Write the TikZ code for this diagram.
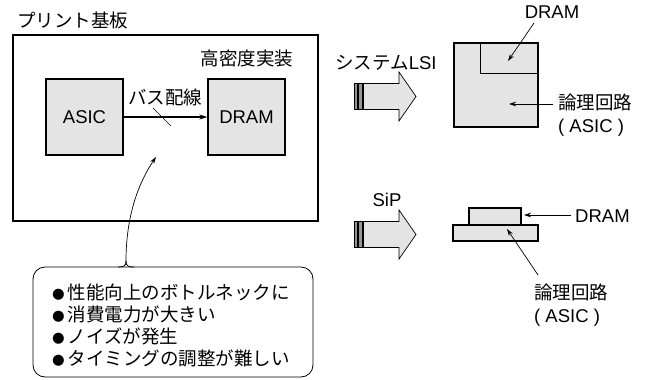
\documentclass[tikz,border=0pt]{standalone}
\usepackage{fontspec}
\setmainfont{Liberation Sans}
\newfontfamily\jpfont{Noto Sans CJK JP}
\newfontfamily\symfont{DejaVu Sans}
\usetikzlibrary{arrows.meta}
\definecolor{boxgray}{RGB}{228,228,228}
\definecolor{tailgray}{RGB}{150,150,150}
\newcommand\jtx[1]{{\jpfont #1}}
\newcommand\bul{\raisebox{1pt}{\symfont\fontsize{14.5}{14.5}\selectfont ●}\hspace{3pt}}
\begin{document}
\begin{tikzpicture}[x=1pt,y=-1pt,
  font=\fontsize{18.5}{22.3}\selectfont,
  lbl/.style={inner sep=0pt},
  chip/.style={draw,line width=1.3pt,fill=boxgray,inner sep=0pt},
  arr/.style={-{Stealth[length=7pt,width=4.5pt]},line width=0.7pt},
  busarr/.style={-{Stealth[length=8pt,width=5pt]},line width=1.1pt},
  bigarrow/.pic={
    \fill[tailgray] (0,-13) rectangle (3.5,13);
    \draw[line width=0.6pt] (0,-13) rectangle (3.5,13);
    \fill[tailgray] (4.5,-13) rectangle (8,13);
    \draw[line width=0.6pt] (4.5,-13) rectangle (8,13);
    \draw[line width=0.7pt,fill=boxgray] (9.5,-13) -- (45,-13) -- (45,-24.5) -- (62,0)
      -- (45,24.5) -- (45,13) -- (9.5,13) -- cycle;
  }]
\useasboundingbox (0,0) rectangle (648,380);

% left: printed board
\node[lbl,anchor=west] (boardlbl) at (17,20) {\jtx{プリント基板}};
\node[draw,line width=1.4pt,minimum width=305pt,minimum height=186pt,inner sep=0pt] (board) at (165.5,128) {};
\node[lbl] (dense) at (247,58) {\jtx{高密度実装}};
\node[chip,minimum width=77pt,minimum height=76pt] (asic) at (84.5,117) {ASIC};
\node[chip,minimum width=77pt,minimum height=76pt] (dram) at (246.5,117) {DRAM};
\node[lbl] (bus) at (165,97) {\jtx{バス配線}};
\draw[busarr] (asic.east) -- (dram.west);
\coordinate (slashA) at (153,108);
\coordinate (slashB) at (171,126);
\draw[line width=0.6pt] (slashA) -- (slashB);

% callout
\node[draw,line width=0.8pt,rounded corners=12pt,minimum width=280pt,minimum height=110pt,inner sep=0pt] (note) at (173,322) {};
\node[lbl,anchor=west,align=left] (notetext) at (52,325.5)
  {\bul\jtx{性能向上のボトルネックに}\\
   \bul\jtx{消費電力が大きい}\\
   \bul\jtx{ノイズが発生}\\
   \bul\jtx{タイミングの調整が難しい}};
\coordinate (cusp) at (126,261);
\coordinate (filL) at (118,267);
\coordinate (filR) at (134,267);
\coordinate (bustgt) at (156,157);
\draw[line width=0.8pt] (filL) .. controls (124,267) and (126,266) .. (cusp);
\draw[line width=0.8pt] (filR) .. controls (128,267) and (126,266) .. (cusp);
\draw[arr] (cusp) .. controls (126,215) and (139,182) .. (bustgt);

% right top: system LSI
\node[lbl] (lsilbl) at (386,63) {\jtx{システム}LSI};
\pic at (354,96.5) {bigarrow};
\node[chip,minimum width=84pt,minimum height=84pt] (lsi) at (496,85) {};
\coordinate (inA) at (480,43);
\coordinate (inB) at (480,73);
\coordinate (inC) at (538,73);
\draw[line width=0.8pt] (inA) -- (inB) -- (inC);
\node[lbl] (dramlbl) at (552,12) {DRAM};
\coordinate (dramstart) at (534,23);
\coordinate (dramtip) at (508,61);
\draw[arr] (dramstart) -- (dramtip);
\node[lbl,anchor=north west,align=left] (logic1) at (558,94) {\jtx{論理回路}\\( ASIC )};
\coordinate (logictip) at (509,104);
\coordinate (logicstart) at (553,104);
\draw[arr] (logicstart) -- (logictip);

% right bottom: SiP
\node[lbl] (siplbl) at (387,200) {SiP};
\pic at (354,234.5) {bigarrow};
\node[chip,minimum width=52pt,minimum height=17pt] (sipdram) at (495,216.5) {};
\node[chip,minimum width=85pt,minimum height=16pt] (sipbase) at (495.5,233) {};
\node[lbl,anchor=west] (dram2lbl) at (575,216) {DRAM};
\coordinate (dram2start) at (571,215);
\coordinate (dram2tip) at (524,215);
\draw[arr] (dram2start) -- (dram2tip);
\node[lbl,anchor=north west,align=left] (logic2) at (534,284) {\jtx{論理回路}\\( ASIC )};
\coordinate (asic2start) at (538,275);
\coordinate (asic2tip) at (507,229);
\draw[arr] (asic2start) -- (asic2tip);
\end{tikzpicture}
\end{document}
